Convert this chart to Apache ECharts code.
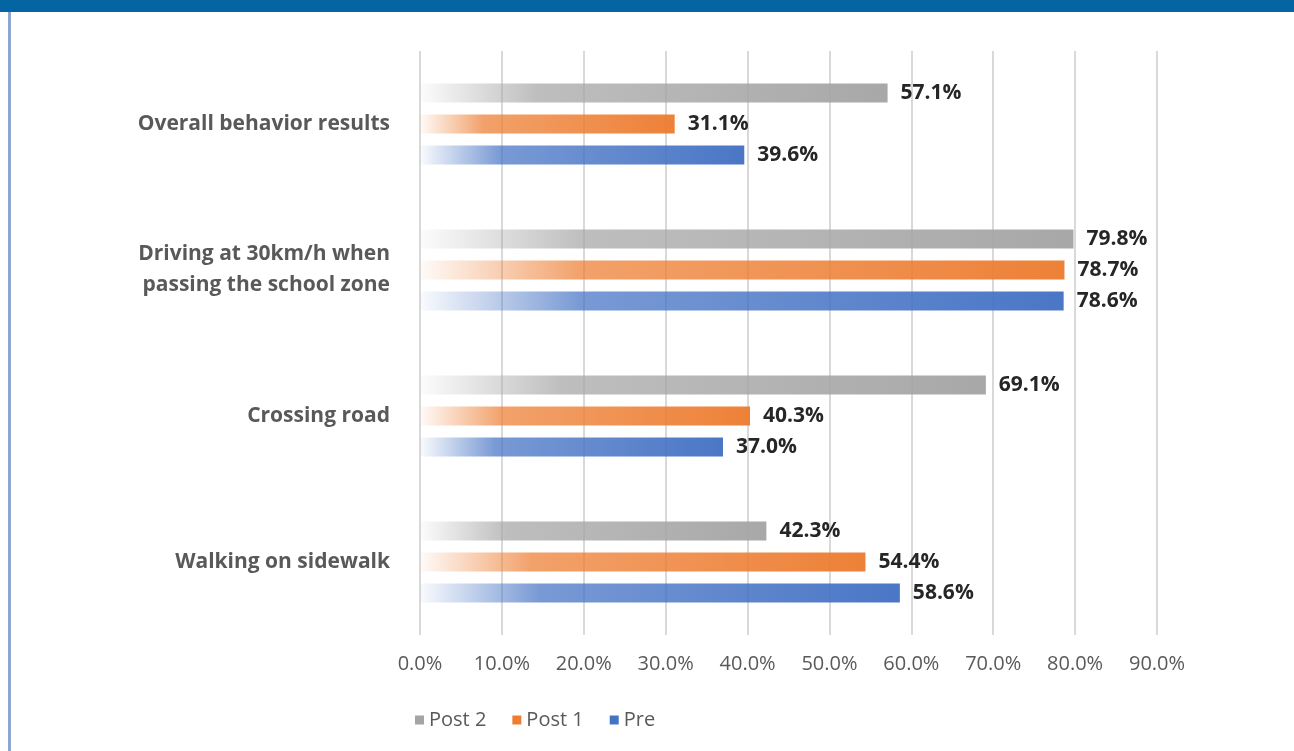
<!DOCTYPE html>
<html>
<head>
<meta charset="utf-8">
<title>Behavior results</title>
<script src="https://cdn.jsdelivr.net/npm/echarts@6/dist/echarts.min.js"></script>
<style>
  html, body { margin: 0; padding: 0; background: #ffffff; }
  #chart { width: 1294px; height: 751px; }
</style>
</head>
<body>
<div id="chart"></div>
<script>
// Categories listed bottom-to-top (category axis starts at the bottom)
const categories = [
  'Walking on sidewalk',
  'Crossing road',
  'Driving at 30km/h when\npassing the school zone',
  'Overall behavior results'
];
const preValues   = [58.6, 37.0, 78.6, 39.6];
const post1Values = [54.4, 40.3, 78.7, 31.1];
const post2Values = [42.3, 69.1, 79.8, 57.1];
const legendOrder = ['Post 2', 'Post 1', 'Pre'];
const xTicks = { min: 0, max: 90, interval: 10 };

const FONT = '"Open Sans", "Noto Sans", sans-serif';

function fade(r, g, b) {
  return new echarts.graphic.LinearGradient(0, 0, 1, 0, [
    { offset: 0,    color: `rgba(${r},${g},${b},0.03)` },
    { offset: 0.25, color: `rgba(${r},${g},${b},0.72)` },
    { offset: 1,    color: `rgba(${r},${g},${b},0.97)` }
  ]);
}

const palette = {
  'Pre':    { r: 68,  g: 114, b: 196, solid: '#4472c4' },
  'Post 1': { r: 237, g: 125, b: 49,  solid: '#ed7d31' },
  'Post 2': { r: 165, g: 165, b: 165, solid: '#a5a5a5' }
};

function makeSeries(name, values) {
  const p = palette[name];
  return {
    name: name,
    type: 'bar',
    data: values,
    barWidth: 19,
    barGap: '63%',
    itemStyle: { color: fade(p.r, p.g, p.b) },
    label: {
      show: true,
      position: 'right',
      distance: 13,
      formatter: (d) => d.value.toFixed(1) + '%',
      fontFamily: FONT,
      fontSize: 21,
      fontWeight: 'bold',
      color: '#262626'
    }
  };
}

const chart = echarts.init(document.getElementById('chart'), null, { renderer: 'canvas' });

chart.setOption({
  animation: false,
  backgroundColor: '#ffffff',
  textStyle: { fontFamily: FONT },
  graphic: [
    { type: 'rect', shape: { x: 0, y: 0, width: 1294, height: 12 }, style: { fill: '#0465a2' }, z: 10 },
    { type: 'rect', shape: { x: 8, y: 12, width: 3, height: 739 }, style: { fill: '#8fa7d0' }, z: 10 }
  ],
  grid: { left: 420, right: 137, top: 51, bottom: 116, containLabel: false },
  legend: {
    data: legendOrder.map((n) => ({ name: n, itemStyle: { color: palette[n].solid } })),
    left: 410,
    top: 705,
    icon: 'rect',
    itemWidth: 9,
    itemHeight: 9,
    itemGap: 26,
    textStyle: { fontFamily: FONT, fontSize: 20, color: '#595959' }
  },
  xAxis: {
    type: 'value',
    min: xTicks.min,
    max: xTicks.max,
    interval: xTicks.interval,
    axisLine: { show: false },
    axisTick: { show: false },
    axisLabel: {
      formatter: (v) => v.toFixed(1) + '%',
      fontFamily: FONT,
      fontSize: 20,
      color: '#595959',
      margin: 19
    },
    splitLine: { show: true, lineStyle: { color: '#d9d9d9', width: 2 } }
  },
  yAxis: {
    type: 'category',
    data: categories,
    axisLine: { show: false },
    axisTick: { show: false },
    axisLabel: {
      fontFamily: FONT,
      fontSize: 21,
      fontWeight: 'bold',
      color: '#595959',
      margin: 30,
      lineHeight: 31,
      align: 'right'
    }
  },
  // series listed top-to-bottom within each category band
  series: [
    makeSeries('Post 2', post2Values),
    makeSeries('Post 1', post1Values),
    makeSeries('Pre', preValues)
  ]
});
</script>
</body>
</html>
